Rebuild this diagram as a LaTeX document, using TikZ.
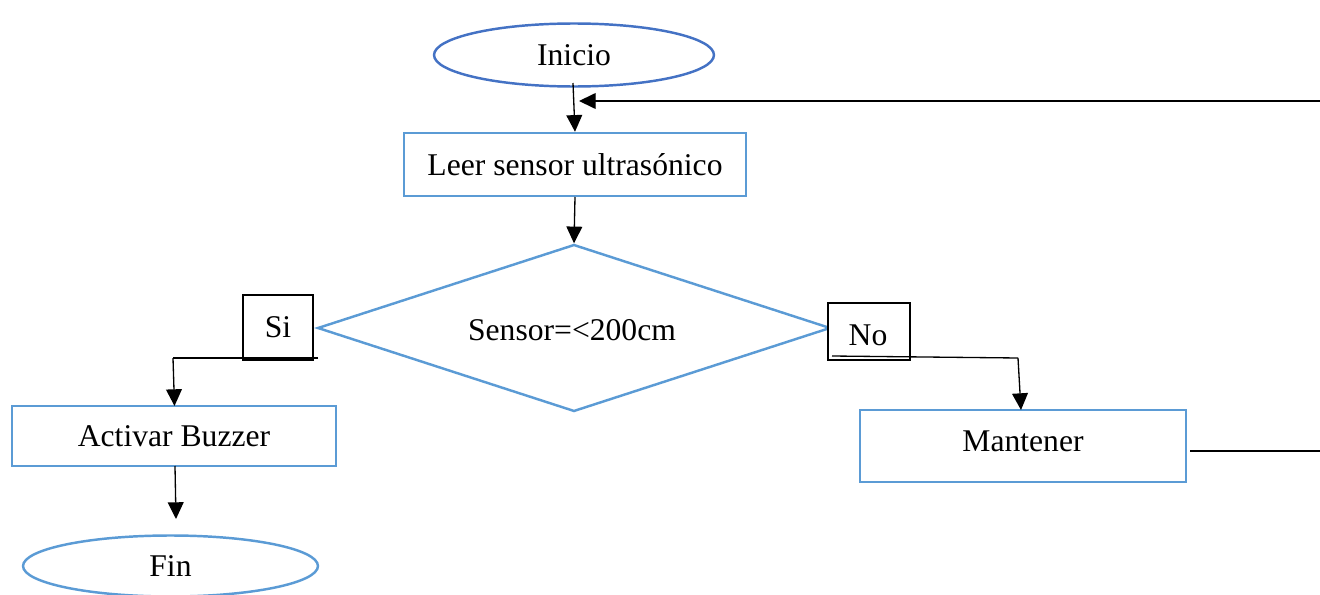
\documentclass[tikz,border=0pt]{standalone}
\usepackage{fontspec}
\setmainfont{Liberation Serif}
\usetikzlibrary{shapes.geometric,arrows.meta}
\definecolor{darkblue}{HTML}{4472C4}
\definecolor{lightblue}{HTML}{5B9BD5}
\begin{document}
\begin{tikzpicture}[x=0.02cm,y=-0.02cm,
  every node/.style={font=\fontsize{18}{21}\selectfont, inner sep=0pt},
  term/.style={ellipse, draw=#1, line width=1.4pt},
  procbox/.style={rectangle, draw=lightblue, line width=1.4pt},
  decis/.style={diamond, draw=lightblue, line width=1.4pt, minimum width=10.26cm, minimum height=3.34cm},
  lbl/.style={rectangle, draw=black, line width=1pt, fill=white},
  conn/.style={draw=black, line width=0.75pt},
  arr/.style={conn, -{Triangle[length=9.5pt,width=9pt]}}]
\useasboundingbox (0,0) rectangle (1320,595);
\node[term=darkblue, minimum width=5.6cm, minimum height=1.26cm] (inicio) at (574,55) {Inicio};
\node[procbox, minimum width=6.84cm, minimum height=1.26cm] (leer) at (575,164.5) {Leer sensor ultrasónico};
\node[decis] (dec) at (574,328) {};
\node at (572,330) {Sensor=<200cm};
\node[lbl, minimum width=1.4cm, minimum height=1.3cm] (si) at (278,327.5) {Si};
\node[lbl, minimum width=1.64cm, minimum height=1.14cm] (no) at (869,331.5) {};
\node at (868,335) {No};
\node[procbox, minimum width=6.48cm, minimum height=1.2cm] (buzzer) at (174,436) {Activar Buzzer};
\node[term=lightblue, minimum width=5.9cm, minimum height=1.22cm] (fin) at (170.5,566) {Fin};
\node[procbox, minimum width=6.52cm, minimum height=1.44cm] (mant) at (1023,446) {};
\node at (1023,441) {Mantener};
% coordinates
\coordinate (a1) at (573,83);
\coordinate (a2) at (575,197);
\coordinate (r1) at (1320,101);
\coordinate (r2) at (579,101);
\coordinate (s1) at (318,358);
\coordinate (s2) at (173,358);
\coordinate (b1) at (175,466);
\coordinate (b2) at (176,519);
\coordinate (n1) at (832,356);
\coordinate (n2) at (1018,358);
\coordinate (m1) at (1190,451);
\coordinate (m2) at (1320,451);
% connectors
\draw[arr] (a1) -- (leer.north);
\draw[arr] (r1) -- (r2);
\draw[arr] (a2) -- (dec.north);
\draw[conn] (s1) -- (s2);
\draw[arr] (s2) -- (174.5,406);
\draw[arr] (b1) -- (b2);
\draw[conn] (n1) -- (n2);
\draw[arr] (n2) -- (1021,410);
\draw[conn] (m1) -- (m2);
\end{tikzpicture}
\end{document}
